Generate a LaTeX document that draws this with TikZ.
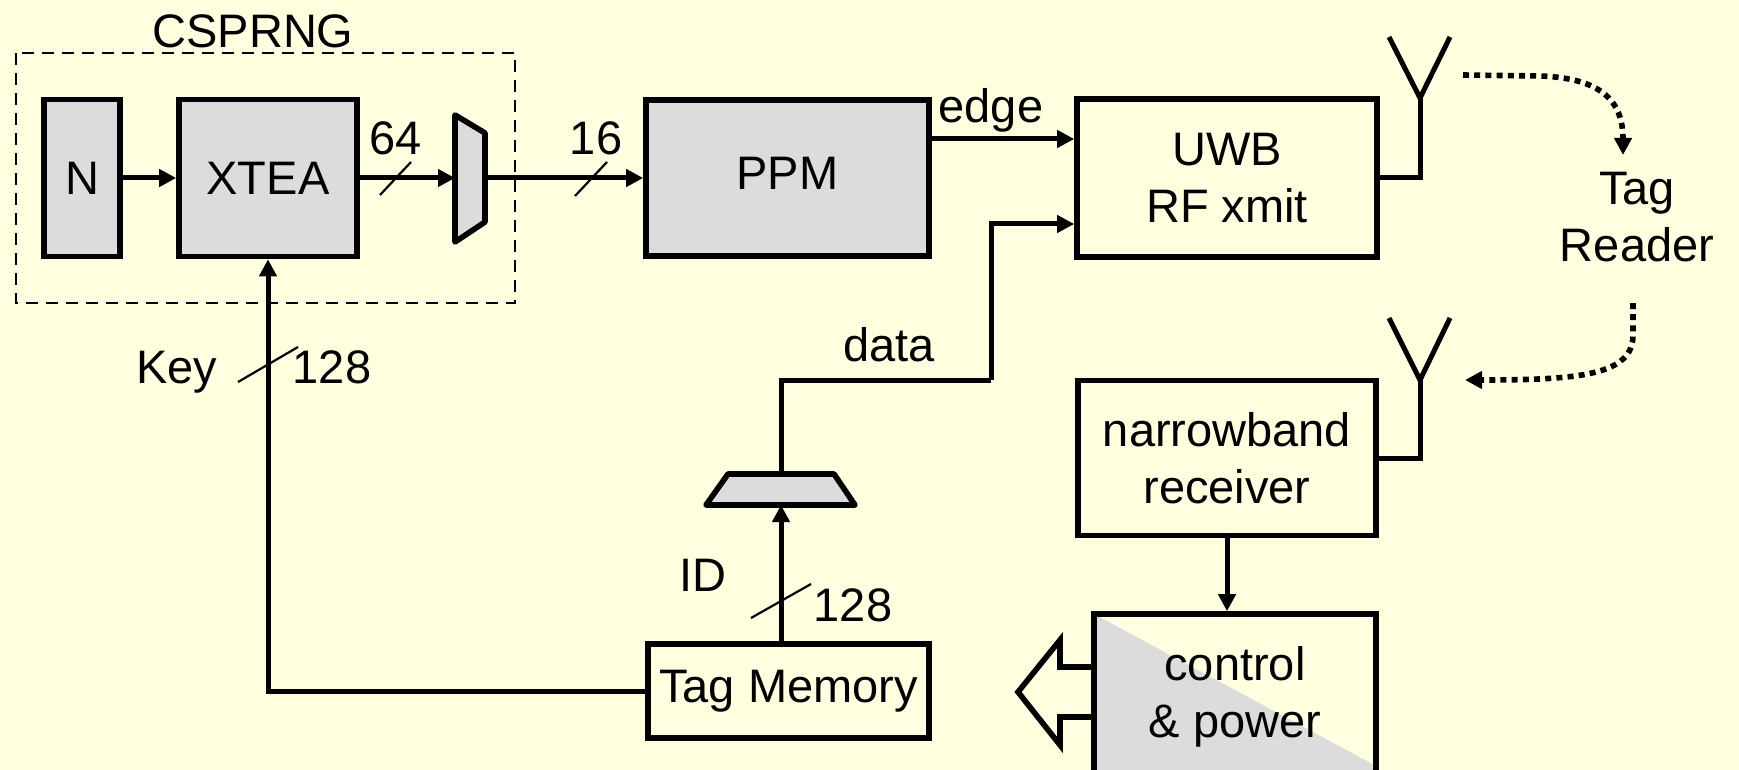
\documentclass[tikz,border=0pt]{standalone}
\usepackage{fontspec}
\setmainfont{Liberation Sans}
\usetikzlibrary{arrows.meta}
\definecolor{bgc}{RGB}{255,255,224}
\definecolor{boxgray}{RGB}{220,220,220}
\begin{document}
\begin{tikzpicture}[x=0.5pt,y=-0.5pt,
  every node/.style={font=\fontsize{23.5}{28.5}\selectfont, inner sep=0pt},
  blockg/.style={draw, line width=2.8pt, fill=boxgray},
  blockw/.style={draw, line width=2.8pt},
  wire/.style={line width=2.5pt},
  arr/.style={wire, -{Triangle[length=8.5pt,width=8.5pt]}},
  busmark/.style={line width=1.1pt},
  dotarr/.style={line width=2.8pt, dash pattern=on 3pt off 2.6pt, -{Triangle[length=8.5pt,width=8.5pt]}},
  muxshape/.style={fill=boxgray, draw, line width=2.8pt, line join=round}
]
\useasboundingbox (0,0) rectangle (1739,770);
\fill[bgc] (0,0) rectangle (1739,770);

% CSPRNG dashed group
\draw[line width=1.4pt, dash pattern=on 6pt off 4pt] (16,53) rectangle (515,303);
\node (csprng) at (253,31) {CSPRNG};

% blocks
\node[blockg, minimum width=38pt, minimum height=78.5pt] (N) at (82,178) {N};
\node[blockg, minimum width=89pt, minimum height=78.5pt] (XTEA) at (268,178) {XTEA};
\node[blockg, minimum width=141.5pt, minimum height=78pt] (PPM) at (787.5,178) {\raisebox{4.5pt}{PPM}};
\node[blockw, minimum width=150pt, minimum height=79pt, align=center] (UWB) at (1227,178) {UWB\\RF xmit};
\node[blockw, minimum width=149pt, minimum height=77.5pt, align=center] (NB) at (1227,458) {narrowband\\receiver};
\node[blockw, minimum width=140.5pt, minimum height=47pt] (TM) at (788.5,691) {Tag Memory};

% control & power
\fill[boxgray] (1094,614) -- (1376,766) -- (1376,780) -- (1094,780) -- cycle;
\draw[line width=2.8pt, line join=miter] (1094,667) -- (1060,667) -- (1060,640) -- (1018,692) -- (1060,745) -- (1060,717) -- (1094,717);
\node[blockw, minimum width=141pt, minimum height=83pt, align=center] (CP) at (1235,697) {control\\\& power};

% muxes
\draw[muxshape] (455,115) -- (485,133) -- (485,222) -- (455,242) -- cycle;
\coordinate (m1in) at (455,178);
\coordinate (m1out) at (485,178);
\draw[muxshape] (706,505) -- (855,505) -- (834,474) -- (728,474) -- cycle;
\coordinate (m2in) at (781,505);
\coordinate (m2out) at (781,474);

% connectors
\draw[arr] (N) -- (XTEA);
\draw[arr] (XTEA) -- (m1in);
\draw[arr] (m1out) -- (PPM);
\coordinate (edgeY) at (0,139);
\draw[arr] (PPM.east |- edgeY) -- (UWB.west |- edgeY);
\coordinate (dataY) at (0,224);
\coordinate (dataX) at (991,380);
\draw[wire] (m2out) |- (dataX);
\draw[arr] (dataX) |- (UWB.west |- dataY);
\draw[arr] (TM.west) -| (XTEA.south);
\draw[arr] (TM.north -| m2in) -- (m2in);
\draw[arr] (NB.south) -- (NB.south |- CP.north);

% antennas
\coordinate (ant1) at (1420,98);
\coordinate (ant1l) at (1389,37);
\coordinate (ant1r) at (1450,37);
\draw[wire] (UWB.east) -| (ant1);
\draw[wire, line join=miter] (ant1l) -- (ant1) -- (ant1r);
\coordinate (ant2) at (1420,380);
\coordinate (ant2l) at (1389,318);
\coordinate (ant2r) at (1450,318);
\draw[wire] (NB.east) -| (ant2);
\draw[wire, line join=miter] (ant2l) -- (ant2) -- (ant2r);

% labels
\node (l64) at (396,138) {64};
\node (l16) at (596,138) {16};
\node (ledge) at (991,110) {edge};
\node (ldata) at (889,345) {data};
\node[align=center] (reader) at (1637,217) {Tag\\Reader};
\node (lkey) at (177,372) {Key};
\node (lk128) at (332,367) {128};
\node (lid) at (703,575) {ID};
\node (lid128) at (853,605) {128};

% bus width marks
\draw[busmark] (380,195) -- (411,162);
\draw[busmark] (575,196) -- (607,162);
\draw[busmark] (238,382) -- (298,347);
\draw[busmark] (751,618) -- (811,584);

% wireless links
\coordinate (tx0) at (1463,75);
\coordinate (tx1) at (1623,155);
\coordinate (rx0) at (1633,303);
\coordinate (rx1) at (1465,380);
\draw[dotarr] (tx0) -- (1540,76) .. controls (1600,78) and (1623,100) .. (tx1);
\draw[dotarr] (rx0) -- (1633,335) .. controls (1633,375) and (1580,380) .. (rx1);
\end{tikzpicture}
\end{document}
